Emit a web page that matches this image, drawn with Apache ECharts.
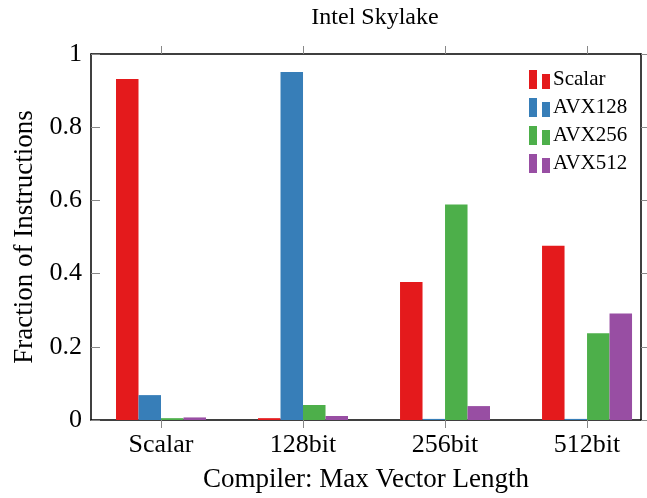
<!DOCTYPE html>
<html>
<head>
<meta charset="utf-8">
<script src="https://cdn.jsdelivr.net/npm/echarts@6/dist/echarts.min.js"></script>
<style>html,body{margin:0;padding:0;background:#fff;}#c{width:647px;height:498px;}</style>
</head>
<body>
<div id="c"></div>
<script>
const categories = ['Scalar', '128bit', '256bit', '512bit'];
const seriesNames = ['Scalar', 'AVX128', 'AVX256', 'AVX512'];
const scalarVals = [0.932, 0.005, 0.377, 0.476];
const avx128Vals = [0.068, 0.951, 0.003, 0.003];
const avx256Vals = [0.005, 0.041, 0.589, 0.237];
const avx512Vals = [0.007, 0.011, 0.038, 0.291];
const yTicks = [0, 0.2, 0.4, 0.6, 0.8, 1];
const colors = ['#e41a1c', '#377eb8', '#4daf4a', '#984ea3'];

const FONT = 'Liberation Serif';
const allVals = [scalarVals, avx128Vals, avx256Vals, avx512Vals];
const catIdx = categories.map((_, i) => i);
const xMin = -0.493, xMax = 3.380;

const chart = echarts.init(document.getElementById('c'), null, {renderer: 'canvas'});
const axisLineStyle = {color: '#000', width: 1.5};
const tickStyle = {color: '#888', width: 1};

chart.setOption({
  animation: false,
  backgroundColor: '#fff',
  color: colors,
  title: {
    text: 'Intel Skylake',
    left: 370, top: 1, textAlign: 'center',
    textStyle: {fontFamily: FONT, fontSize: 24, fontWeight: 'normal', color: '#000'}
  },
  legend: {
    orient: 'vertical', left: 524, top: 64,
    itemWidth: 21, itemHeight: 19, itemGap: 7,
    icon: 'path://M0,0H8V19H0Z M13,4H21V19H13Z',
    textStyle: {fontFamily: FONT, fontSize: 21, color: '#000', padding: [0,0,0,-2]},
    data: seriesNames
  },
  grid: {left: 91, right: 6, top: 54, bottom: 76},
  xAxis: [{
    type: 'value', min: xMin, max: xMax, position: 'bottom',
    splitLine: {show: false},
    axisLine: {show: true, onZero: false, lineStyle: axisLineStyle},
    axisTick: {show: true, inside: false, length: 8, lineStyle: tickStyle, customValues: catIdx},
    axisLabel: {customValues: catIdx, margin: 12, fontFamily: FONT, fontSize: 26, color: '#000',
      formatter: v => categories[Math.round(v)] || ''},
    name: 'Compiler: Max Vector Length', nameLocation: 'middle', nameGap: 46,
    nameTextStyle: {fontFamily: FONT, fontSize: 27, color: '#000'}
  }, {
    type: 'value', min: xMin, max: xMax, position: 'top',
    splitLine: {show: false},
    axisLine: {show: true, onZero: false, lineStyle: axisLineStyle},
    axisTick: {show: true, inside: false, length: 8, lineStyle: tickStyle, customValues: catIdx},
    axisLabel: {show: false}
  }],
  yAxis: [{
    type: 'value', min: 0, max: 1, interval: 0.2, position: 'left',
    splitLine: {show: false},
    axisLine: {show: true, onZero: false, lineStyle: axisLineStyle},
    axisTick: {show: true, inside: true, length: 9, lineStyle: tickStyle},
    axisLabel: {margin: 9, fontFamily: FONT, fontSize: 26, color: '#000',
      formatter: v => String(Math.round(v * 10) / 10)},
    name: 'Fraction of Instructions', nameLocation: 'middle', nameGap: 52,
    nameTextStyle: {fontFamily: FONT, fontSize: 27, color: '#000'}
  }, {
    type: 'value', min: 0, max: 1, interval: 0.2, position: 'right',
    splitLine: {show: false},
    axisLine: {show: true, onZero: false, lineStyle: axisLineStyle},
    axisTick: {show: true, inside: false, length: 7, lineStyle: tickStyle},
    axisLabel: {show: false}
  }],
  series: seriesNames.map((name, s) => ({
    name: name, type: 'bar', xAxisIndex: 0, yAxisIndex: 0,
    barWidth: 22.5, barGap: '0%',
    data: catIdx.map(i => [i, allVals[s][i]]),
    itemStyle: {color: colors[s]}
  }))
});
</script>
</body>
</html>
